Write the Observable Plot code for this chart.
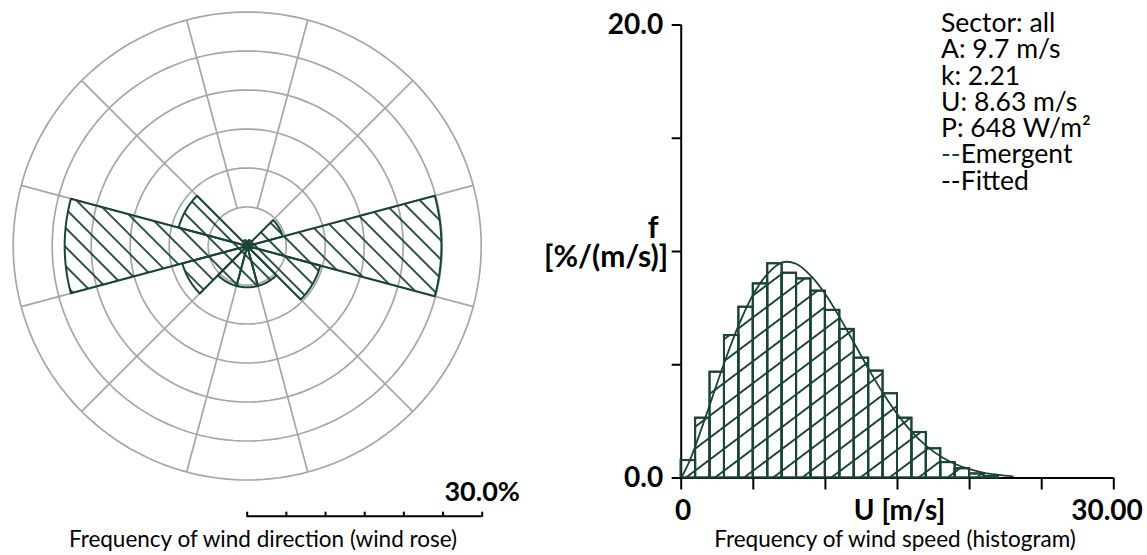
<!DOCTYPE html>
<html>
<head>
<meta charset="utf-8">
<script src="https://cdn.jsdelivr.net/npm/d3@7"></script>
<script src="https://cdn.jsdelivr.net/npm/@observablehq/plot@0.6"></script>
<style>
  body { margin: 0; background: #fff; }
  #root { position: relative; width: 1147px; height: 555px; overflow: hidden; background: #fff;
          font-family: Lato, "Open Sans", sans-serif; color: #000; }
  .abs { position: absolute; white-space: nowrap; }
</style>
</head>
<body>
<div id="root"></div>
<script>
// ---------------- data: wind rose ----------------
const sectorBearings = [0, 30, 60, 90, 120, 150, 180, 210, 240, 270, 300, 330];
const sectorFreq     = [0.6, 0.8, 4.7, 24.9, 9.7, 5.3, 5.3, 5.3, 8.6, 23.4, 9.1, 0.8]; // %
const ringValues     = [5, 10, 15, 20, 25, 30];
const gridBearings   = [15, 45, 75, 105, 135, 165, 195, 225, 255, 285, 315, 345];
const scaleTicks     = [0, 5, 10, 15, 20, 25, 30];
const scaleTickText  = ["", "", "", "", "", "", "30.0%"];
const roseCaption    = "Frequency of wind direction (wind rose)";

// ---------------- data: histogram ----------------
const binStart = [0, 1, 2, 3, 4, 5, 6, 7, 8, 9, 10, 11, 12, 13, 14, 15, 16, 17, 18, 19, 20, 21];
const binFreq  = [0.77, 2.64, 4.67, 6.29, 7.54, 8.57, 9.46, 9.04, 8.79, 8.25, 7.40, 6.56,
                  5.29, 4.72, 3.72, 2.64, 2.01, 1.29, 0.68, 0.41, 0.18, 0.06]; // %/(m/s)
const fitSpeed = [0, 0.5, 1, 2, 3, 4, 5, 6, 7, 8, 9, 10, 11, 12, 13, 14, 15, 16, 17, 18, 19, 20, 21, 22, 23];
const fitFreq  = [0, 0.63, 1.45, 3.27, 5.11, 6.77, 8.11, 9.02, 9.52, 9.45, 8.92, 8.11, 7.08,
                  5.95, 4.81, 3.74, 2.81, 2.03, 1.42, 0.95, 0.62, 0.39, 0.23, 0.14, 0.07];
const xTicks     = [0, 5, 10, 15, 20, 25, 30];
const xTickText  = ["0", "", "", "U [m/s]", "", "", "30.00"];
const yTicks     = [0, 5, 10, 15, 20];
const yTickText  = ["0.0", "", "", "", "20.0"];
const yLabelTop  = "f";
const yLabelUnit = "[%/(m/s)]";
const statLabels = ["Sector", "A", "k", "U", "P"];
const statValues = ["all", "9.7 m/s", "2.21", "8.63 m/s", "648 W/m²"];
const legendItems = ["Emergent", "Fitted"];
const histCaption = "Frequency of wind speed (histogram)";

// ---------------- styling ----------------
const GREEN = "#1b4435";
const GRID = "#a6a6a6";
const FONT = "Lato, 'Open Sans', sans-serif";
const root = document.getElementById("root");

function addPattern(svg, id, size, angle, width) {
  const ns = "http://www.w3.org/2000/svg";
  const defs = document.createElementNS(ns, "defs");
  const p = document.createElementNS(ns, "pattern");
  p.setAttribute("id", id);
  p.setAttribute("patternUnits", "userSpaceOnUse");
  p.setAttribute("width", size);
  p.setAttribute("height", size);
  p.setAttribute("patternTransform", `rotate(${angle})`);
  const l = document.createElementNS(ns, "line");
  l.setAttribute("x1", -1); l.setAttribute("x2", size + 1);
  l.setAttribute("y1", size / 2); l.setAttribute("y2", size / 2);
  l.setAttribute("stroke", GREEN); l.setAttribute("stroke-width", width);
  p.appendChild(l); defs.appendChild(p);
  svg.insertBefore(defs, svg.firstChild);
}
function place(el, left, top) {
  el.style.position = "absolute";
  el.style.left = left + "px";
  el.style.top = top + "px";
  el.style.maxWidth = "none";
  el.style.overflow = "visible";
  root.appendChild(el);
}

// ---------------- wind rose ----------------
const rad = d => d * Math.PI / 180;
const polar = (b, r) => ({x: r * Math.sin(rad(b)), y: r * Math.cos(rad(b))});
const rMax = ringValues[ringValues.length - 1];

const ringPts = ringValues.flatMap(r => d3.range(0, 361, 2).map(a => ({ring: r, ...polar(a, r)})));
const wedgePts = sectorBearings.flatMap((b, i) => [
  {sector: i, x: 0, y: 0},
  ...d3.range(b - 15, b + 15.0001, 1).map(a => ({sector: i, ...polar(a, sectorFreq[i])})),
  {sector: i, x: 0, y: 0}
]);

const rose = Plot.plot({
  width: 500, height: 492,
  marginLeft: 12.7, marginRight: 19.3, marginTop: 11.5, marginBottom: 12.5,
  style: {background: "transparent"},
  x: {domain: [-rMax, rMax], axis: null},
  y: {domain: [-rMax, rMax], axis: null},
  marks: [
    Plot.line(ringPts, {x: "x", y: "y", z: "ring", stroke: GRID, strokeWidth: 1.7}),
    Plot.link(gridBearings, {
      x1: b => polar(b, ringValues[0]).x, y1: b => polar(b, ringValues[0]).y,
      x2: b => polar(b, rMax).x, y2: b => polar(b, rMax).y,
      stroke: GRID, strokeWidth: 1.7
    }),
    Plot.line(wedgePts, {x: "x", y: "y", z: "sector", fill: "url(#roseHatch)",
      stroke: GREEN, strokeWidth: 2, strokeLinejoin: "round"})
  ]
});
addPattern(rose, "roseHatch", 13.5, 45, 1.8);
place(rose, 0, 0);

const scaleBar = Plot.plot({
  width: 540, height: 60,
  marginLeft: 246.7, marginRight: 58.3, marginTop: 45.7, marginBottom: 14.3,
  style: {background: "transparent", fontFamily: FONT, fontSize: "27px", fontWeight: "bold", color: "#000"},
  x: {domain: [0, rMax]},
  y: {domain: [0, 1], axis: null},
  marks: [
    Plot.ruleY([1], {stroke: "#000", strokeWidth: 2}),
    Plot.axisX(scaleTicks, {anchor: "top", tickSize: 5, tickPadding: 10, strokeWidth: 2, label: null,
      tickFormat: d => scaleTickText[scaleTicks.indexOf(d)]})
  ]
});
place(scaleBar, 0, 470);

const rc = document.createElement("div");
rc.className = "abs";
rc.textContent = roseCaption;
rc.style.cssText += "font-size:22.5px;line-height:22.5px;left:263px;top:528px;transform:translateX(-50%);";
root.appendChild(rc);

// ---------------- histogram ----------------
const bins = binStart.map((u, i) => ({u0: u, u1: u + 1, f: binFreq[i]}));
const fit = fitSpeed.map((u, i) => ({u, f: fitFreq[i]}));
const xLabels = xTicks.map((u, i) => ({u, t: xTickText[i]})).filter(d => d.t);

const hist = Plot.plot({
  width: 627, height: 555,
  marginLeft: 160.7, marginRight: 33.7, marginTop: 24.5, marginBottom: 77.5,
  style: {background: "transparent", fontFamily: FONT, fontSize: "28px", fontWeight: "bold", color: "#000"},
  x: {domain: [0, 30]},
  y: {domain: [0, 20]},
  marks: [
    Plot.rectY(bins, {x1: "u0", x2: "u1", y: "f", fill: "url(#histHatch)", stroke: GREEN, strokeWidth: 2, inset: 0}),
    Plot.ruleX([0], {y1: 0, y2: 20, stroke: "#000", strokeWidth: 2}),
    Plot.ruleY([0], {x1: 0, x2: 30, stroke: "#000", strokeWidth: 2}),
    Plot.rectY(bins, {x1: "u0", x2: "u1", y: "f", fill: "none", stroke: GREEN, strokeWidth: 2, inset: 0}),
    Plot.line(fit, {x: "u", y: "f", curve: "catmull-rom", stroke: GREEN, strokeWidth: 1.8}),
    Plot.axisX(xTicks, {anchor: "bottom", tickSize: 12, tickPadding: 10, strokeWidth: 2, label: null,
      tickFormat: () => ""}),
    Plot.text(xLabels.filter(d => d.u < 30), {x: "u", y: 0, text: "t", textAnchor: "middle",
      lineAnchor: "top", dy: 22, dx: 2}),
    Plot.text(xLabels.filter(d => d.u >= 30), {x: "u", y: 0, text: "t", textAnchor: "end",
      lineAnchor: "top", dy: 22, dx: 29}),
    Plot.axisY(yTicks, {anchor: "left", tickSize: 9, tickPadding: 9, strokeWidth: 2, label: null,
      tickFormat: d => yTickText[yTicks.indexOf(d)]}),
    Plot.text([{x: 0, y: 10, t: yLabelUnit}], {x: "x", y: "y", text: "t", textAnchor: "end",
      dx: -13, dy: 6, fontSize: 30}),
    Plot.text([{x: 0, y: 10, t: yLabelTop}], {x: "x", y: "y", text: "t", textAnchor: "middle",
      dx: -28, dy: -23, fontSize: 30})
  ]
});
addPattern(hist, "histHatch", 17.5, -37, 2);
place(hist, 520, 0);

const info = document.createElement("div");
info.className = "abs";
info.style.cssText += "left:941px;top:9px;font-size:26.5px;line-height:26.3px;";
const lines = statLabels.map((l, i) => `${l}: ${statValues[i]}`);
info.innerHTML = lines.join("<br>") + "<br>" +
  legendItems.map((t, i) => `<span style="color:${i === 0 ? GREEN : "#000"}">--</span>${t}`).join("<br>");
root.appendChild(info);

const hc = document.createElement("div");
hc.className = "abs";
hc.textContent = histCaption;
hc.style.cssText += "font-size:22.5px;line-height:22.5px;left:895px;top:528px;transform:translateX(-50%);";
root.appendChild(hc);
</script>
</body>
</html>
